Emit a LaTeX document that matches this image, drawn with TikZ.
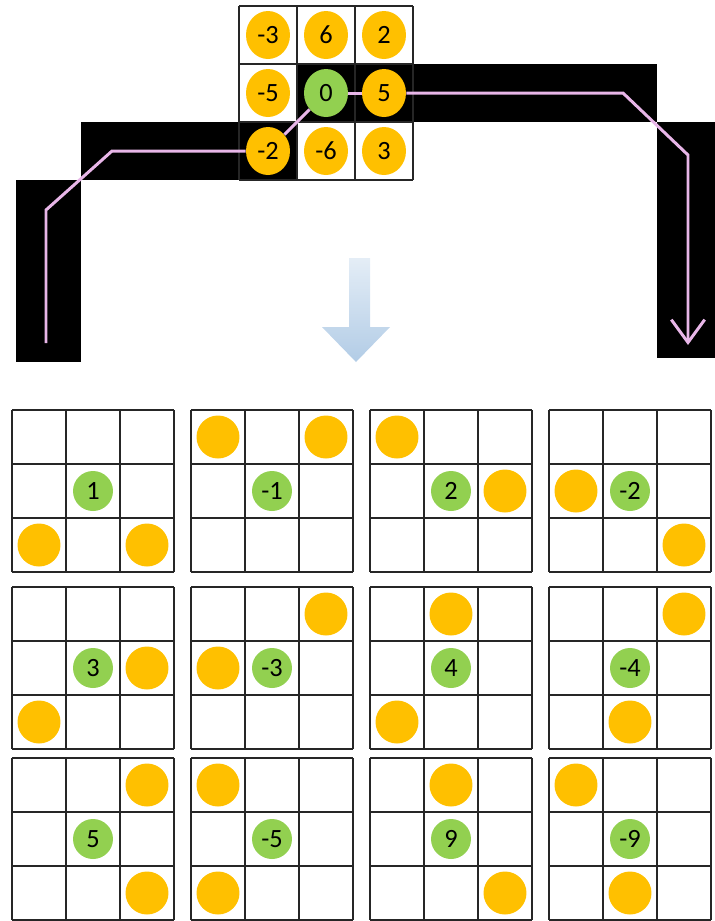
\documentclass[tikz,border=0pt]{standalone}
\usepackage{fontspec}
\setmainfont{Carlito}
\usetikzlibrary{arrows.meta,shapes.geometric}
\definecolor{dotorange}{RGB}{255,192,0}
\definecolor{dotgreen}{RGB}{146,208,80}
\definecolor{pathpink}{RGB}{232,182,232}
\definecolor{bigarrow}{RGB}{178,204,230}
\begin{document}
\begin{tikzpicture}[
x=0.02cm,y=-0.02cm,
every node/.style={font=\fontsize{15}{17}\selectfont},
topdot/.style={ellipse,fill=dotorange,inner sep=0pt,minimum width=0.88cm,minimum height=0.96cm},
topcentre/.style={topdot,fill=dotgreen},
dot/.style={circle,fill=dotorange,inner sep=0pt,minimum size=0.86cm},
centre/.style={circle,fill=dotgreen,inner sep=0pt,minimum size=0.8cm},
gridline/.style={draw=black!85,line width=1.6pt},
pinkpath/.style={draw=pathpink,line width=1.7pt}
]
\useasboundingbox (0,0) rectangle (715,921);
% black track
\fill (297,64) rectangle (657,122);
\fill (657,122) rectangle (715,358);
\fill (81,122) rectangle (297,180);
\fill (16,180) rectangle (81,362);
% top kernel
\foreach \i in {0,...,3}{
    \draw[gridline] (239+58*\i,6) -- (239+58*\i,180);
    \draw[gridline] (239,6+58*\i) -- (413,6+58*\i);
}
\node[topdot] (tm3) at (268,35) {-3};
\node[topdot] (tp6) at (326,35) {6};
\node[topdot] (tp2) at (384,35) {2};
\node[topdot] (tm5) at (268,93) {-5};
\node[topcentre] (t0) at (326,93) {0};
\node[topdot] (tp5) at (384,93) {5};
\node[topdot] (tm2) at (268,151) {-2};
\node[topdot] (tm6) at (326,151) {-6};
\node[topdot] (tp3) at (384,151) {3};
% pink path
\coordinate (s0) at (46,343);
\coordinate (s1) at (46,210);
\coordinate (s2) at (112,151);
\coordinate (e0) at (623,93);
\coordinate (e1) at (688,155);
\coordinate (e2) at (688,345);
\draw[pinkpath] (s0) -- (s1) -- (s2) -- (tm2);
\draw[pinkpath] (tm2) -- (t0);
\draw[pinkpath] (t0) -- (tp5);
\draw[pinkpath,-{Straight Barb[length=13pt,width=19pt]}] (tp5) -- (e0) -- (e1) -- (e2);
% big arrow
\shade[top color=bigarrow!35,bottom color=bigarrow]
    (349,258) -- (370,258) -- (370,327) -- (390,327) -- (356,362) -- (322,327) -- (349,327) -- cycle;
% results
\foreach \c/\r/\v/\ax/\ay/\bx/\by [count=\k] in {
    0/0/1/1/3/3/3, 1/0/-1/1/1/3/1, 2/0/2/1/1/3/2, 3/0/-2/1/2/3/3,
    0/1/3/3/2/1/3, 1/1/-3/3/1/1/2, 2/1/4/2/1/1/3, 3/1/-4/3/1/2/3,
    0/2/5/3/1/3/3, 1/2/-5/1/1/1/3, 2/2/9/2/1/3/3, 3/2/-9/1/1/2/3}{
    \pgfmathsetmacro\gx{12+179*\c}
    \pgfmathsetmacro\gy{{410,587,758}[\r]}
    \foreach \i in {0,...,3}{
        \draw[gridline] (\gx+54*\i,\gy) -- (\gx+54*\i,\gy+162);
        \draw[gridline] (\gx,\gy+54*\i) -- (\gx+162,\gy+54*\i);
    }
    \node[centre] (g\k) at (\gx+81,\gy+81) {\v};
    \node[dot] (a\k) at (\gx+54*\ax-27,\gy+54*\ay-27) {};
    \node[dot] (b\k) at (\gx+54*\bx-27,\gy+54*\by-27) {};
}
\end{tikzpicture}
\end{document}
